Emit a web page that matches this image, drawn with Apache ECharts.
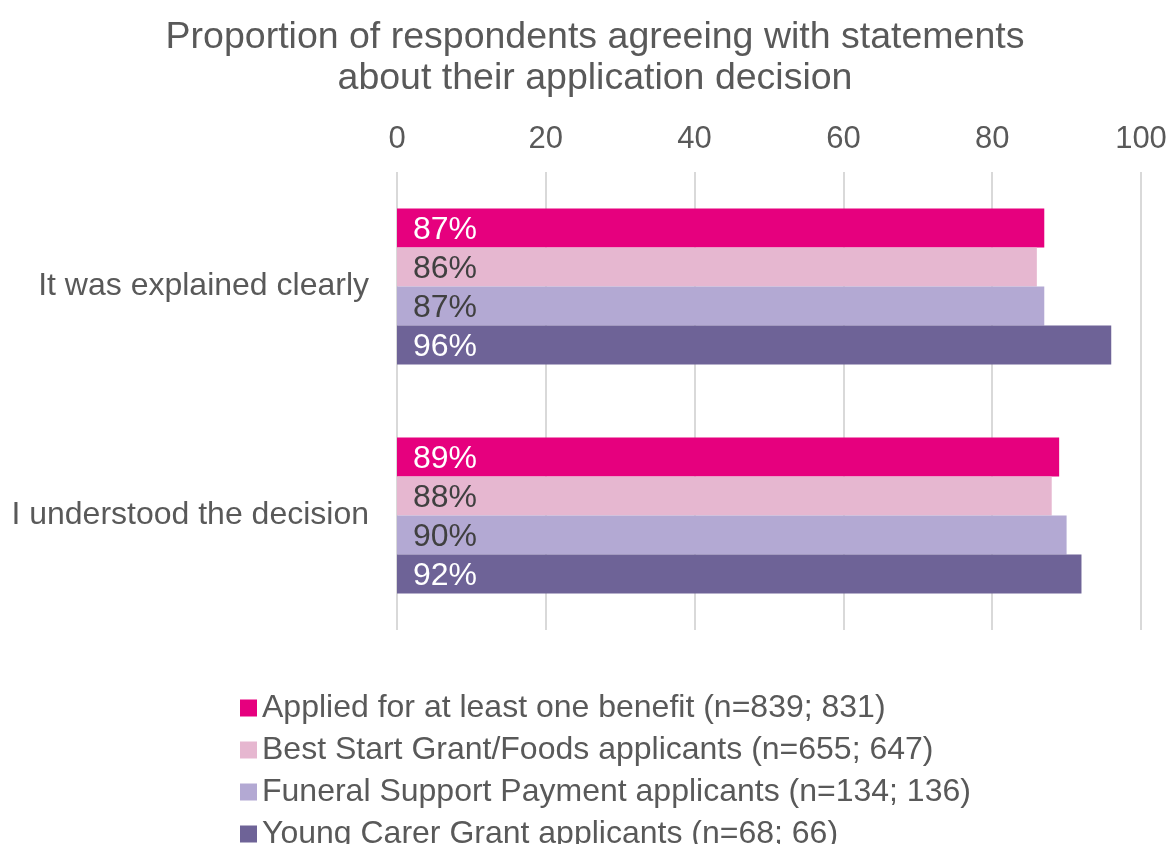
<!DOCTYPE html>
<html>
<head>
<meta charset="utf-8">
<script src="https://cdn.jsdelivr.net/npm/echarts@6/dist/echarts.min.js"></script>
<style>
  html, body { margin: 0; padding: 0; background: #fff; }
  #chart { width: 1172px; height: 844px; }
</style>
</head>
<body>
<div id="chart"></div>
<script>
// Statements shown on the category axis
const categories = ['It was explained clearly', 'I understood the decision'];

// Applicant groups (legend entries)
const seriesNames = [
  'Applied for at least one benefit (n=839; 831)',
  'Best Start Grant/Foods applicants (n=655; 647)',
  'Funeral Support Payment applicants (n=134; 136)',
  'Young Carer Grant applicants (n=68; 66)'
];

// Percentage agreeing, per statement
const appliedAny = [87, 89];
const bestStart = [86, 88];
const funeralSupport = [87, 90];
const youngCarer = [96, 92];

const xTicks = [0, 20, 40, 60, 80, 100];

const colors = ['#E6007E', '#E6B7D0', '#B3A9D3', '#6E6397'];
const labelColors = ['#ffffff', '#404040', '#404040', '#ffffff'];
const values = [appliedAny, bestStart, funeralSupport, youngCarer];

const FONT = '"Liberation Sans", Arial, sans-serif';
const GREY = '#595959';

const chart = echarts.init(document.getElementById('chart'));

chart.setOption({
  animation: false,
  textStyle: { fontFamily: FONT },
  title: {
    text: 'Proportion of respondents agreeing with statements\nabout their application decision',
    left: 590,
    textAlign: 'center',
    top: 12,
    textStyle: {
      fontFamily: FONT,
      fontSize: 37.5,
      fontWeight: 'normal',
      color: GREY,
      lineHeight: 41
    }
  },
  legend: {
    orient: 'vertical',
    left: 235,
    top: 687,
    height: 220,
    itemWidth: 17,
    itemHeight: 17,
    itemGap: 10,
    icon: 'rect',
    data: seriesNames,
    textStyle: {
      fontFamily: FONT,
      fontSize: 32,
      color: GREY
    }
  },
  grid: {
    left: 397,
    right: 31,
    top: 172,
    bottom: 214,
    containLabel: false
  },
  xAxis: {
    type: 'value',
    position: 'top',
    min: xTicks[0],
    max: xTicks[xTicks.length - 1],
    interval: 20,
    axisLine: { show: false },
    axisTick: { show: false },
    axisLabel: {
      fontFamily: FONT,
      fontSize: 31,
      color: GREY,
      margin: 17
    },
    splitLine: {
      show: true,
      lineStyle: { color: '#d9d9d9', width: 2 }
    }
  },
  yAxis: {
    type: 'category',
    inverse: true,
    data: categories,
    axisLine: { show: false },
    axisTick: { show: false },
    axisLabel: {
      fontFamily: FONT,
      fontSize: 32,
      color: GREY,
      margin: 28,
      padding: [4, 0, 0, 0]
    }
  },
  series: seriesNames.map((name, i) => ({
    name: name,
    type: 'bar',
    data: values[i],
    barWidth: 39,
    barGap: '0%',
    itemStyle: { color: colors[i] },
    label: {
      show: true,
      position: 'insideLeft',
      distance: 16,
      offset: [0, 2],
      formatter: p => p.value + '%',
      fontFamily: FONT,
      fontSize: 32,
      color: labelColors[i]
    }
  }))
});
</script>
</body>
</html>
